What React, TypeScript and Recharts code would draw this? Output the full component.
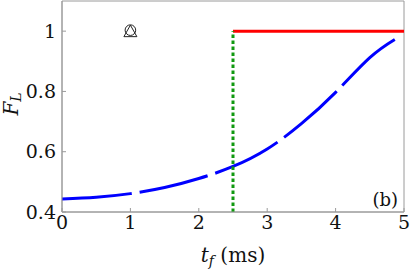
import {
  ComposedChart,
  Line,
  Scatter,
  XAxis,
  YAxis,
  ReferenceArea,
  Label,
} from "recharts"

// F_L vs t_f
const curveT = [0, 0.5, 1, 1.5, 2, 2.5, 3, 3.5, 4, 4.5, 4.9]
const curveF = [0.443, 0.449, 0.461, 0.481, 0.511, 0.551, 0.609, 0.693, 0.797, 0.912, 0.977]
const limitT = [2.5, 5]
const limitF = [1, 1]
const markT = [2.5, 2.5]
const markF = [0.4, 1]
const pointT = [1]
const pointF = [1]

const xTicks = [0, 1, 2, 3, 4, 5]
const yTicks = [0.4, 0.6, 0.8, 1]

const zip = (ts: number[], fs: number[]) => ts.map((t, i) => ({ t, f: fs[i] }))
const curve = zip(curveT, curveF)
const limit = zip(limitT, limitF)
const marker = zip(markT, markF)
const points = zip(pointT, pointF)

const frame = "#9a9a9a"

// open circle + open triangle drawn on the same point
function CircleTriangle({ cx, cy }: any) {
  return (
    <g fill="none" stroke="#222" strokeWidth={1}>
      <circle cx={cx} cy={cy - 1} r={5.3} />
      <path d={`M${cx},${cy - 6}L${cx + 6.5},${cy + 5.5}L${cx - 6.5},${cy + 5.5}Z`} />
    </g>
  )
}

function XLabel({ viewBox }: any) {
  const x = viewBox.x + viewBox.width / 2
  const y = viewBox.y + 50
  return (
    <text x={x} y={y} textAnchor="middle" fontSize={20} fill="#111">
      <tspan fontStyle="italic">t</tspan>
      <tspan fontStyle="italic" fontSize={14} dy={4}>f</tspan>
      <tspan dy={-4}> (ms)</tspan>
    </text>
  )
}

function YLabel({ viewBox }: any) {
  const x = viewBox.x + 18
  const y = 104
  return (
    <text
      x={x}
      y={y}
      transform={`rotate(-90 ${x} ${y})`}
      textAnchor="middle"
      fontSize={20}
      fill="#111"
    >
      <tspan fontStyle="italic">F</tspan>
      <tspan fontStyle="italic" fontSize={14} dy={3}>L</tspan>
    </text>
  )
}

export default function App() {
  const tick = { fontSize: 19, fill: "#111" }
  return (
    <div style={{ width: 411, height: 273, background: "#fff" }}>
      <style>{`body{margin:0} .rc text, .rc tspan { font-family: "DejaVu Serif", serif; }`}</style>
      <ComposedChart
        className="rc"
        width={411}
        height={273}
        margin={{ top: 1, right: 7, left: 0, bottom: 0 }}
      >
        <XAxis
          type="number"
          dataKey="t"
          domain={[0, 5]}
          ticks={xTicks}
          height={61}
          stroke={frame}
          tickSize={-4}
          tickMargin={8}
          tick={tick}
          allowDataOverflow
        >
          <Label content={<XLabel />} />
        </XAxis>
        <YAxis
          type="number"
          domain={[0.4, 1.1]}
          ticks={yTicks}
          width={62}
          stroke={frame}
          tickSize={-4}
          tickMargin={10}
          tick={tick}
          allowDataOverflow
        >
          <Label content={<YLabel />} />
        </YAxis>
        <ReferenceArea
          x1={0}
          x2={5}
          y1={0.4}
          y2={1.1}
          fill="none"
          stroke={frame}
          strokeWidth={1}
          ifOverflow="visible"
        >
          <Label
            value="(b)"
            position="insideBottomRight"
            offset={6}
            fontSize={18}
            fill="#111"
          />
        </ReferenceArea>
        <Line
          data={curve}
          dataKey="f"
          type="natural"
          stroke="#0000ff"
          strokeWidth={3}
          strokeDasharray="70 8"
          dot={false}
          isAnimationActive={false}
        />
        <Line
          data={limit}
          dataKey="f"
          type="linear"
          stroke="#ff0000"
          strokeWidth={3}
          dot={false}
          isAnimationActive={false}
        />
        <Line
          data={marker}
          dataKey="f"
          type="linear"
          stroke="#119911"
          strokeWidth={3}
          strokeDasharray="3.5 2.5"
          dot={false}
          isAnimationActive={false}
        />
        <Scatter
          data={points}
          dataKey="f"
          shape={<CircleTriangle />}
          isAnimationActive={false}
        />
      </ComposedChart>
    </div>
  )
}
